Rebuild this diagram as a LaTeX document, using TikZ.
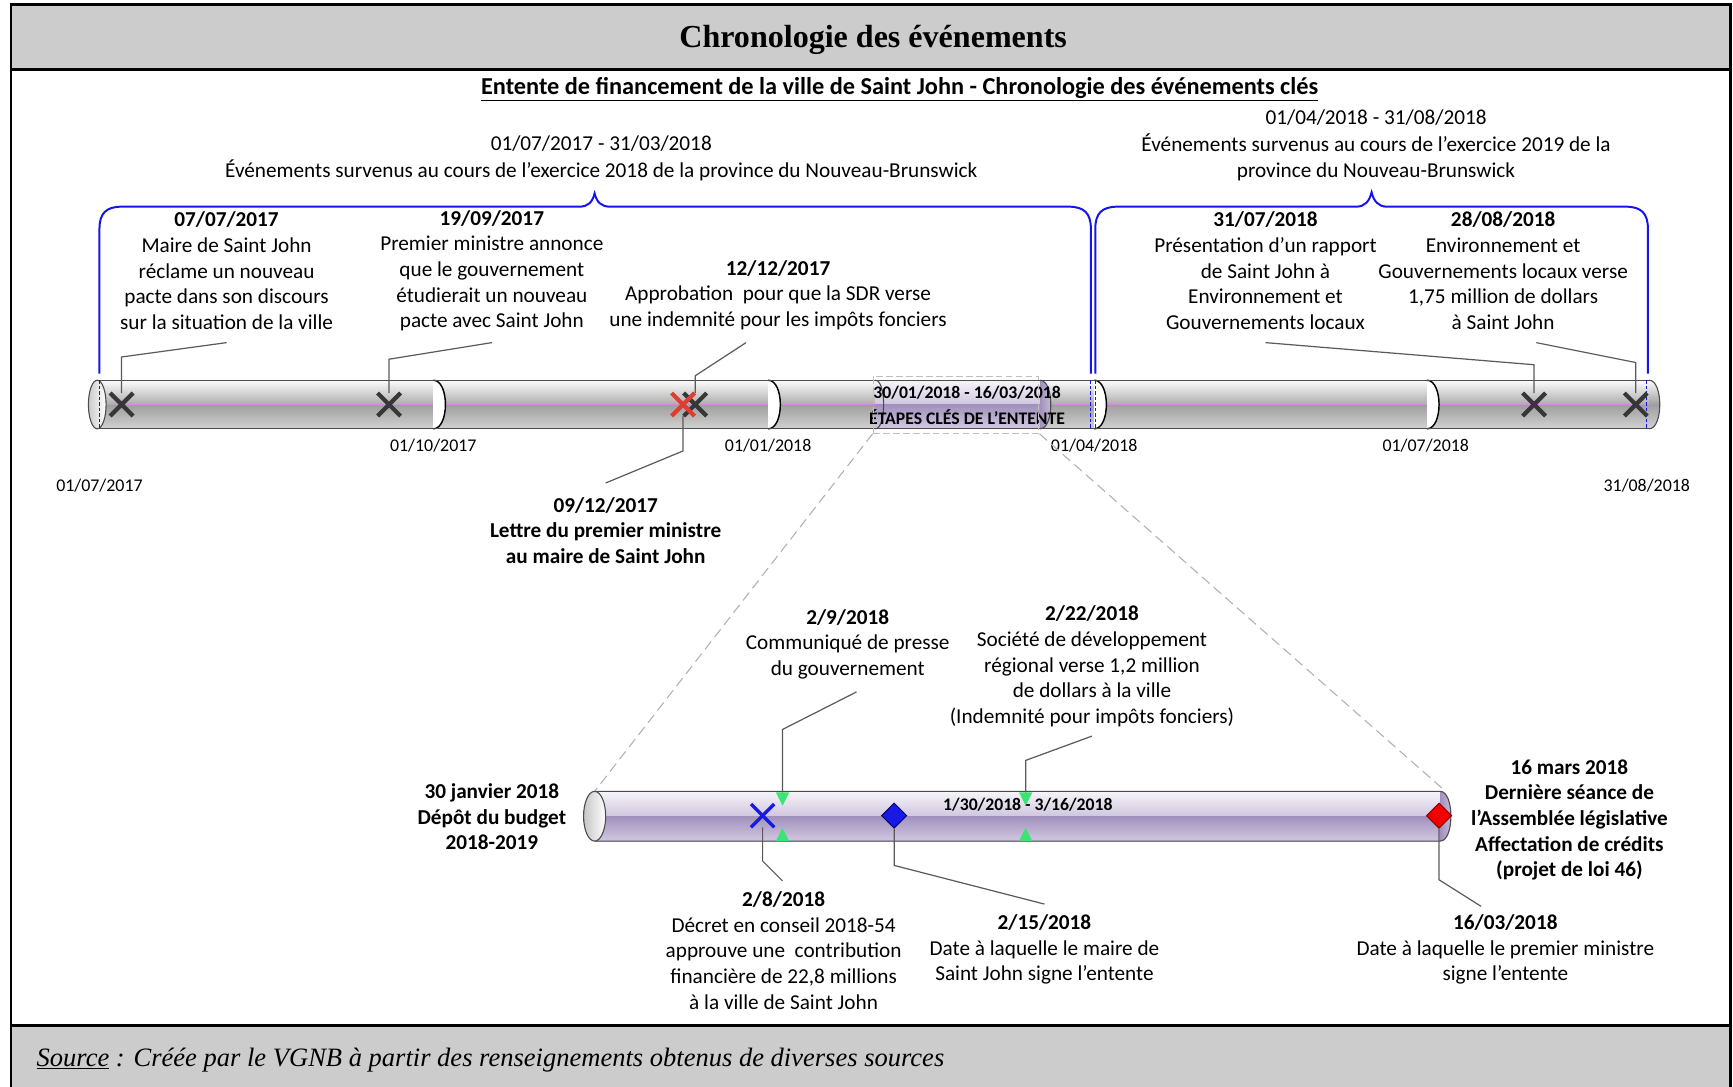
\documentclass[tikz,border=0pt]{standalone}
\usepackage{fontspec}
\setmainfont{Carlito}
\newfontfamily\seriffont{Liberation Serif}
\usetikzlibrary{shapes.misc,shapes.geometric}
\definecolor{bracebl}{RGB}{20,20,235}
\definecolor{ldr}{RGB}{90,90,90}
\definecolor{xgray}{RGB}{55,55,55}
\definecolor{midl}{RGB}{205,145,220}
\definecolor{gtop}{RGB}{253,253,253}
\definecolor{gmidup}{RGB}{172,172,172}
\definecolor{gmidlo}{RGB}{158,158,158}
\definecolor{gbot}{RGB}{210,210,210}
\definecolor{ptop}{RGB}{247,244,250}
\definecolor{pmidup}{RGB}{208,198,222}
\definecolor{pmidlo}{RGB}{160,145,188}
\definecolor{pbot}{RGB}{210,200,226}
\definecolor{grn}{RGB}{60,228,115}
\definecolor{band}{RGB}{204,204,204}
\definecolor{xred}{RGB}{225,60,50}
\definecolor{dblue}{RGB}{25,25,230}
\begin{document}
\begin{tikzpicture}[x=1pt,y=-1pt,
  txt/.style={font=\fontsize{19.2}{23.2}\selectfont, align=center, inner sep=0pt},
  btxt/.style={font=\bfseries\fontsize{19.2}{23.2}\selectfont, align=center, inner sep=0pt},
  tick/.style={font=\fontsize{16.2}{19}\selectfont, inner sep=0pt},
  barlbl/.style={font=\bfseries\fontsize{16}{19}\selectfont, inner sep=0pt},
  ldrline/.style={draw=ldr, line width=1.1pt},
  bracepath/.style={draw=bracebl, line width=1.8pt},
  bluedash/.style={draw=bracebl, line width=1pt, dash pattern=on 3pt off 2pt},
  xmark/.style={cross out, draw=xgray, line width=3.8pt, minimum size=17pt, inner sep=0pt},
  projline/.style={draw=gray!60, line width=1pt, dash pattern=on 9pt off 5pt},
  rim/.style={draw=black!70, line width=1pt},
  sepline/.style={draw=black, line width=1.3pt},
]
\useasboundingbox (0,0) rectangle (1568,983);
% ---------- frame ----------
\fill[band] (10,4) rectangle (1566,63);
\fill[band] (10,928) rectangle (1566,995);
\draw[line width=2.5pt] (10,4) rectangle (1566,995);
\draw[line width=2.5pt] (10,63) -- (1566,63) (10,928) -- (1566,928);
\node[font=\seriffont\bfseries\fontsize{29}{32}\selectfont, inner sep=0pt] (title) at (790,36) {Chronologie des événements};
\node[font=\bfseries\fontsize{22}{26}\selectfont, inner sep=0pt] (subtitle) at (814,81) {\underline{Entente de financement de la ville de Saint John - Chronologie des événements clés}};
\node[anchor=west, font=\seriffont\itshape\fontsize{24}{28}\selectfont, inner sep=0pt] (source) at (33,959) {\underline{Source} : Créée par le VGNB à partir des renseignements obtenus de diverses sources};

% ---------- period labels and braces ----------
\node[txt, font=\fontsize{19.2}{24.5}\selectfont] (per1) at (544,143) {01/07/2017 - 31/03/2018\\Événements survenus au cours de l’exercice 2018 de la province du Nouveau-Brunswick};
\node[txt, font=\fontsize{19.2}{24}\selectfont] (per2) at (1245,131.5) {01/04/2018 - 31/08/2018\\Événements survenus au cours de l’exercice 2019 de la\\province du Nouveau-Brunswick};
\draw[bracepath] (90,338) -- (90,207) .. controls (90,193) and (96,187) .. (110,187) -- (524,187) .. controls (532,187) and (536,183) .. (538,175) .. controls (540,183) and (544,187) .. (552,187) -- (967,187) .. controls (981,187) and (987,193) .. (987,207) -- (987,338);
\draw[bracepath] (991,338) -- (991,207) .. controls (991,193) and (997,187) .. (1011,187) -- (1227,187) .. controls (1235,187) and (1239,182) .. (1241,174) .. controls (1243,182) and (1247,187) .. (1255,187) -- (1471,187) .. controls (1485,187) and (1491,193) .. (1491,207) -- (1491,338);

% ---------- main bar ----------
\shade[top color=gtop, bottom color=gmidup] (88,344) rectangle (1492,366);
\shade[top color=gmidlo, bottom color=gbot] (88,366) rectangle (1492,388);
\draw[midl, line width=1pt] (88,366) -- (1492,366);
\foreach \s in {392,695,990,1291} {
  \fill[white] (\s,344) .. controls (\s+14.7,344) and (\s+14.7,388) .. (\s,388) -- cycle;
  \draw[sepline] (\s,344) .. controls (\s+14.7,344) and (\s+14.7,388) .. (\s,388);
}
% key-steps segment
\shade[top color=ptop, bottom color=pmidup] (792,344) rectangle (941,366);
\shade[top color=pmidlo, bottom color=pbot] (792,366) rectangle (941,388);
\shade[left color=pmidlo, right color=pmidup] (941,344) .. controls (954,344) and (954,388) .. (941,388) -- cycle;
\draw[rim] (941,344) .. controls (954,344) and (954,388) .. (941,388);
\draw[rim] (792,344) .. controls (802,344) and (802,388) .. (792,388);
% rims and ends
\draw[rim] (88,344) -- (1492,344) (88,388) -- (1492,388);
\shade[left color=gray!40, right color=white, draw=black!70, line width=1pt] (88,366) ellipse [x radius=8, y radius=22];
\shade[top color=gtop, bottom color=gbot, middle color=gmidlo] (1492,344) .. controls (1505,344) and (1505,388) .. (1492,388) -- cycle;
\draw[rim] (1492,344) .. controls (1505,344) and (1505,388) .. (1492,388);
\draw[bluedash] (90,344) -- (90,388) (987,344) -- (987,388) (991,344) -- (991,388) (1490,344) -- (1490,388);

% markers
\node[xmark] (m1) at (110,366) {};
\node[xmark] (m2) at (352,366) {};
\node[xmark] (m3) at (629,366) {};
\node[xmark, draw=xred] (m4) at (618,366) {};
\node[xmark] (m5) at (1388,366) {};
\node[xmark] (m6) at (1480,366) {};

\node[barlbl] (k1) at (875,355) {30/01/2018 - 16/03/2018};
\node[barlbl] (k2) at (875,377) {ÉTAPES CLÉS DE L’ENTENTE};
\node[draw=gray!50, dash pattern=on 6pt off 3pt, line width=1pt, minimum width=150pt, minimum height=51pt, inner sep=0pt] (zsrc) at (865,366.5) {};

% tick labels
\node[tick] (d1) at (392,403) {01/10/2017};
\node[tick] (d2) at (695,403) {01/01/2018};
\node[tick] (d3) at (990,403) {01/04/2018};
\node[tick] (d4) at (1290,403) {01/07/2018};
\node[tick] (d0) at (90,439) {01/07/2017};
\node[tick] (d5) at (1490,439) {31/08/2018};

% upper event texts
\node[txt] (ea) at (205,245) {\textbf{07/07/2017}\\Maire de Saint John\\réclame un nouveau\\pacte dans son discours\\sur la situation de la ville};
\node[txt] (eb) at (445,245) {\textbf{19/09/2017}\\Premier ministre annonce\\que le gouvernement\\étudierait un nouveau\\pacte avec Saint John};
\node[txt] (ec) at (704,267) {\textbf{12/12/2017}\\Approbation~ pour que la SDR verse\\une indemnité pour les impôts fonciers};
\node[btxt] (ed) at (548,480) {09/12/2017\\Lettre du premier ministre\\au maire de Saint John};
\node[txt] (ee) at (1145,245) {\textbf{31/07/2018}\\Présentation d’un rapport\\de Saint John à\\Environnement et\\Gouvernements locaux};
\node[txt] (ef) at (1360,245) {\textbf{28/08/2018}\\Environnement et\\Gouvernements locaux verse\\1,75 million de dollars\\à Saint John};

% upper leaders
\coordinate (la1) at (205,310); \coordinate (la2) at (110,323);
\draw[ldrline] (la1) -- (la2) -- (m1.north);
\coordinate (lb1) at (445,310); \coordinate (lb2) at (352,325);
\draw[ldrline] (lb1) -- (lb2) -- (m2.north);
\coordinate (lc1) at (675,310); \coordinate (lc2) at (629,340);
\draw[ldrline] (lc1) -- (lc2) -- (m3.north);
\coordinate (ld1) at (548,437); \coordinate (ld2) at (618,408);
\draw[ldrline] (m4.south) -- (ld2) -- (ld1);
\coordinate (le1) at (1145,310); \coordinate (le2) at (1388,330);
\draw[ldrline] (le1) -- (le2) -- (m5.north);
\coordinate (lf1) at (1390,310); \coordinate (lf2) at (1480,328);
\draw[ldrline] (lf1) -- (lf2) -- (m6.north);

% ---------- zoom projection ----------
\coordinate (lbl) at (538,716);
\coordinate (lbr) at (1308,716);
\draw[projline] (zsrc.south west) -- (lbl);
\draw[projline] (zsrc.south east) -- (lbr);

% ---------- lower bar ----------
\shade[top color=ptop, bottom color=pmidup] (538,716) rectangle (1303,738.5);
\shade[top color=pmidlo, bottom color=pbot] (538,738.5) rectangle (1303,761);
\shade[left color=pmidlo, right color=pmidup] (1303,716) .. controls (1316,716) and (1316,761) .. (1303,761) -- cycle;
\draw[rim] (538,716) -- (1303,716) .. controls (1316,716) and (1316,761) .. (1303,761) -- (538,761);
\shade[left color=gray!45, right color=white, draw=black!70, line width=1pt] (538,738.5) ellipse [x radius=10, y radius=22.5];

\node[barlbl] (k3) at (930,728) {1/30/2018 - 3/16/2018};

% triangles
\fill[grn] (702,717) -- (714,717) -- (708,729) -- cycle;
\fill[grn] (702,761) -- (714,761) -- (708,749) -- cycle;
\fill[grn] (922,717) -- (934,717) -- (928,729) -- cycle;
\fill[grn] (922,761) -- (934,761) -- (928,749) -- cycle;
\coordinate (t1) at (708,717);
\coordinate (t2) at (928,717);

\node[cross out, draw=dblue, line width=3pt, minimum size=18pt, inner sep=0pt] (n1) at (690,738) {};
\node[diamond, fill=dblue, draw=blue!40!black, line width=0.8pt, minimum size=23pt, inner sep=0pt] (n2) at (809,738) {};
\node[diamond, fill=red!95!black, draw=red!50!black, line width=0.8pt, minimum size=23pt, inner sep=0pt] (n3) at (1302,738) {};

% lower texts
\node[btxt] (eg) at (445,739) {30 janvier 2018\\Dépôt du budget\\2018-2019};
\node[txt] (eh) at (767,583) {\textbf{2/9/2018}\\Communiqué de presse\\du gouvernement};
\node[txt] (ei) at (988,603) {\textbf{2/22/2018}\\Société de développement\\régional verse 1,2 million\\de dollars à la ville\\(Indemnité pour impôts fonciers)};
\node[txt] (ej) at (709,860) {\textbf{2/8/2018}\\Décret en conseil 2018-54\\approuve une~ contribution\\financière de 22,8 millions\\à la ville de Saint John};
\node[txt] (ek) at (945,859) {\textbf{2/15/2018}\\Date à laquelle le maire de\\Saint John signe l’entente};
\node[btxt] (el) at (1420,742) {16 mars 2018\\Dernière séance de\\l’Assemblée législative\\Affectation de crédits\\(projet de loi 46)};
\node[txt] (em) at (1362,859) {\textbf{16/03/2018}\\Date à laquelle le premier ministre\\signe l’entente};

% lower leaders
\coordinate (lh1) at (775,626); \coordinate (lh2) at (708,660);
\draw[ldrline] (lh1) -- (lh2) -- (t1);
\coordinate (li1) at (988,666); \coordinate (li2) at (928,688);
\draw[ldrline] (li1) -- (li2) -- (t2);
\coordinate (lj1) at (690,779); \coordinate (lj2) at (708,797);
\draw[ldrline] (n1.south) -- (lj1) -- (lj2);
\coordinate (lk1) at (809,783); \coordinate (lk2) at (945,818);
\draw[ldrline] (n2.south) -- (lk1) -- (lk2);
\coordinate (lm1) at (1302,796); \coordinate (lm2) at (1340,820);
\draw[ldrline] (n3.south) -- (lm1) -- (lm2);
\end{tikzpicture}
\end{document}
